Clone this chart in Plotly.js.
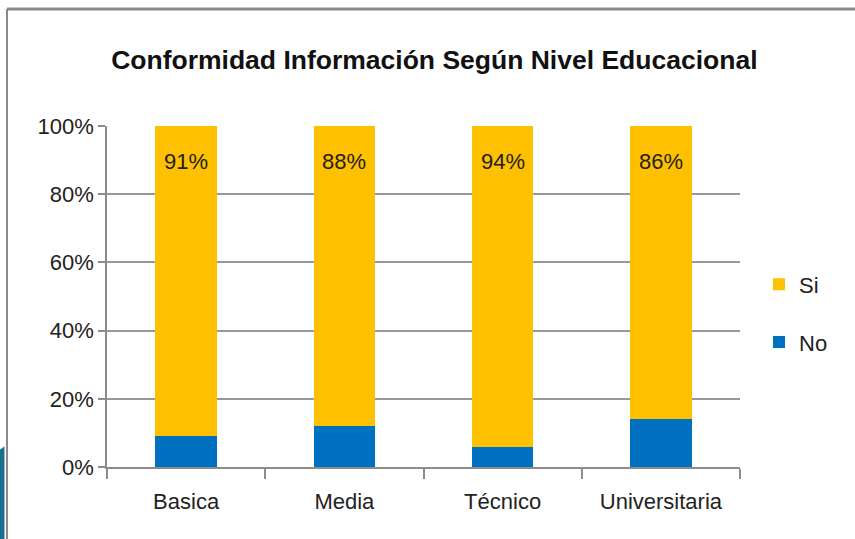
<!DOCTYPE html>
<html>
<head>
<meta charset="utf-8">
<script src="https://cdn.plot.ly/plotly-3.0.1.min.js"></script>
<style>
  body { margin: 0; background: #fff; }
  #chart { width: 855px; height: 539px; }
</style>
</head>
<body>
<div id="chart"></div>
<script>
var niveles = ["Basica", "Media", "Técnico", "Universitaria"];
var no = [9, 12, 6, 14];
var si = [91, 88, 94, 86];
var etiquetas = ["91%", "88%", "94%", "86%"];

var fuente = "'Liberation Sans', Arial, sans-serif";

var traceNo = {
  x: niveles,
  y: no,
  name: "No",
  type: "bar",
  legendgroup: "no",
  legendrank: 2,
  marker: { color: "#0070C0" },
  hoverinfo: "x+y"
};
var traceSi = {
  x: niveles,
  y: si,
  name: "Si",
  type: "bar",
  legendgroup: "si",
  legendrank: 1,
  marker: { color: "#FFC000" },
  hoverinfo: "x+y"
};

// etiquetas cerca de la parte alta de cada barra
var notas = [];
for (var i = 0; i < niveles.length; i++) {
  notas.push({
    x: niveles[i],
    y: no[i] + si[i],
    xref: "x",
    yref: "y",
    text: etiquetas[i],
    showarrow: false,
    yanchor: "middle",
    yshift: -35,
    font: { family: fuente, size: 22, color: "#222" }
  });
}

var layout = {
  width: 855,
  height: 539,
  margin: { l: 107, r: 115, t: 126, b: 72 },
  paper_bgcolor: "#fff",
  plot_bgcolor: "#fff",
  font: { family: fuente, color: "#222" },
  barmode: "stack",
  bargap: 0.61,
  title: {
    text: "<b>Conformidad Información Según Nivel Educacional</b>",
    font: { family: fuente, size: 26.5, color: "#111" },
    x: 0.508,
    xref: "container",
    xanchor: "center",
    y: 0.889,
    yanchor: "middle"
  },
  xaxis: {
    type: "category",
    showline: true,
    linecolor: "#8c8c8c",
    linewidth: 1.5,
    ticks: "outside",
    tickson: "boundaries",
    ticklen: 10,
    tickcolor: "#8c8c8c",
    tickwidth: 1.5,
    ticklabelstandoff: 14,
    tickfont: { family: fuente, size: 22, color: "#222" },
    showgrid: false
  },
  yaxis: {
    range: [0, 100],
    dtick: 20,
    ticksuffix: "%",
    showline: true,
    linecolor: "#8c8c8c",
    linewidth: 1.5,
    ticks: "outside",
    ticklen: 7,
    tickcolor: "#8c8c8c",
    tickwidth: 1.5,
    gridcolor: "#999",
    gridwidth: 1.5,
    zeroline: false,
    tickfont: { family: fuente, size: 22, color: "#222" }
  },
  legend: {
    x: 1.03,
    y: 0.45,
    xanchor: "left",
    yanchor: "middle",
    traceorder: "grouped",
    tracegroupgap: 26,
    font: { family: fuente, size: 22, color: "#222" },
    itemwidth: 30
  },
  annotations: notas,
  shapes: [
    // marco de la diapositiva
    { type: "line", xref: "paper", yref: "paper", x0: -0.158, x1: 1.2, y0: 1.343, y1: 1.343,
      line: { color: "#8a8a8a", width: 3 } },
    { type: "line", xref: "paper", yref: "paper", x0: -0.158, x1: -0.158, y0: 1.343, y1: -0.22,
      line: { color: "#8a8a8a", width: 2 } },
    // adorno azul abajo a la izquierda
    { type: "path", xref: "paper", yref: "paper",
      path: "M -0.17 -0.22 L -0.17 0.05 L -0.162 0.06 L -0.162 -0.22 Z",
      fillcolor: "#1a6f8e", line: { width: 0 } }
  ]
};

Plotly.newPlot("chart", [traceNo, traceSi], layout, { displayModeBar: false });
</script>
</body>
</html>
